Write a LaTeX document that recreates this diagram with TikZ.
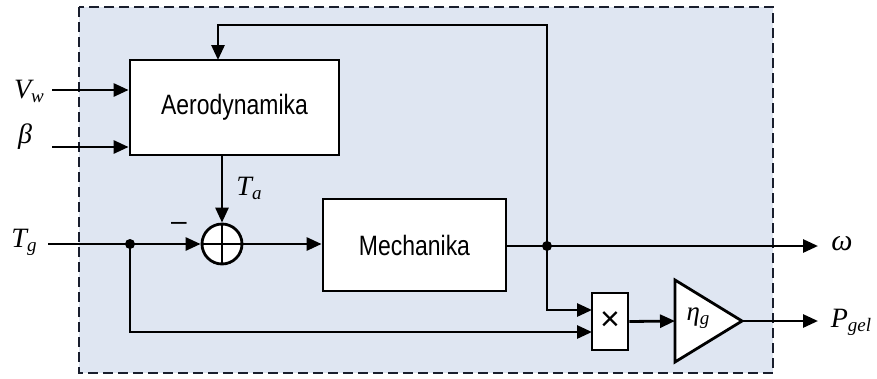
\documentclass[tikz,border=0pt]{standalone}
\usepackage{fontspec}
\setmainfont{Liberation Sans}
\newfontfamily\tms{Liberation Serif}
\usetikzlibrary{arrows.meta,calc}
\definecolor{bgfill}{RGB}{223,230,242}
\definecolor{dashc}{RGB}{25,30,45}
\newcommand\ilab[2]{{\tms\itshape #1\raisebox{-0.3ex}{\fontsize{19}{19}\selectfont #2}}}
\newcommand\narrow[1]{\scalebox{0.82}[1]{#1}}
\tikzset{
  blk/.style={draw,line width=2.8pt,fill=white,inner sep=0pt,font=\fontsize{28}{30}\selectfont},
  arr/.style={line width=2.8pt,-{Triangle[length=15pt,width=13pt]}},
  lab/.style={inner sep=0pt,font=\fontsize{28}{30}\selectfont},
  dot/.style={circle,fill=black,inner sep=0pt,minimum size=10pt},
}
\begin{document}
\begin{tikzpicture}[x=1pt,y=-1pt]
\useasboundingbox (0,0) rectangle (877,378);
% dashed frame
\draw[dashc,line width=2.8pt,dash pattern=on 10pt off 5pt,fill=bgfill] (79,7) rectangle (773,373);
% blocks
\node[blk,minimum width=209pt,minimum height=95pt] (aero) at (234.5,107.5) {\narrow{Aerodynamika}};
\node[blk,minimum width=183pt,minimum height=92pt] (mech) at (414.5,245) {\narrow{Mechanika}};
\node[draw,circle,line width=2.8pt,fill=white,minimum size=40pt,inner sep=0pt] (sum) at (222,244) {};
\draw[line width=2.2pt] (sum.north) -- (sum.south) (sum.west) -- (sum.east);
\node[blk,minimum width=36pt,minimum height=57pt,font=\fontsize{34}{34}\selectfont] (mult) at (610,321.5) {×};
% gain triangle
\coordinate (gin) at (675,321);
\coordinate (gout) at (742,321);
\draw[line width=2.8pt,fill=white,line join=miter] (675,280) -- (gout) -- (675,362) -- cycle;
\node[lab,font=\fontsize{27}{30}\selectfont] (eta) at (698,318) {\ilab{η}{g}};
% junctions and ends
\node[dot] (j1) at (130,244) {};
\node[dot] (jw) at (547,246) {};
\coordinate (vw) at (52,90);
\coordinate (be) at (52,147);
\coordinate (tg) at (48,244);
\coordinate (fb) at (547,25);
\coordinate (aeroin) at (218,60);
\coordinate (wout) at (818,246);
\coordinate (pout) at (818,321);
\coordinate (m1) at (592,310);
\coordinate (m2) at (592,332);
% connectors
\draw[arr] (vw) -- (vw -| aero.west);
\draw[arr] (be) -- (be -| aero.west);
\draw[arr] (jw.center) -- (fb) -| (aeroin);
\draw[arr] (sum.north |- aero.south) -- (sum.north);
\draw[arr] (tg) -- (sum.west);
\draw[arr] (sum.east) -- (sum.east -| mech.west);
\draw[line width=2.8pt] (mech.east |- jw) -- (jw.center);
\draw[arr] (jw.center) -- (wout);
\draw[arr] (jw.center) |- (m1);
\draw[arr] (j1.center) |- (m2);
\draw[arr] (mult.east) -- (gin);
\draw[arr] (gout) -- (pout);
% labels
\node[lab] (lvw) at (29,91) {\ilab{V}{w}};
\node[lab] (lbe) at (25,137) {{\tms\itshape β}};
\node[lab] (ltg) at (24,242) {\ilab{T}{g}};
\node[lab] (lta) at (249,188) {\ilab{T}{a}};
\node[lab,font=\fontsize{30}{30}\selectfont] (lw) at (842,244) {{\tms\itshape ω}};
\node[lab] (lp) at (851,322) {\ilab{P}{gel}};
\node[lab] (minus) at (179,226) {–};
\end{tikzpicture}
\end{document}
